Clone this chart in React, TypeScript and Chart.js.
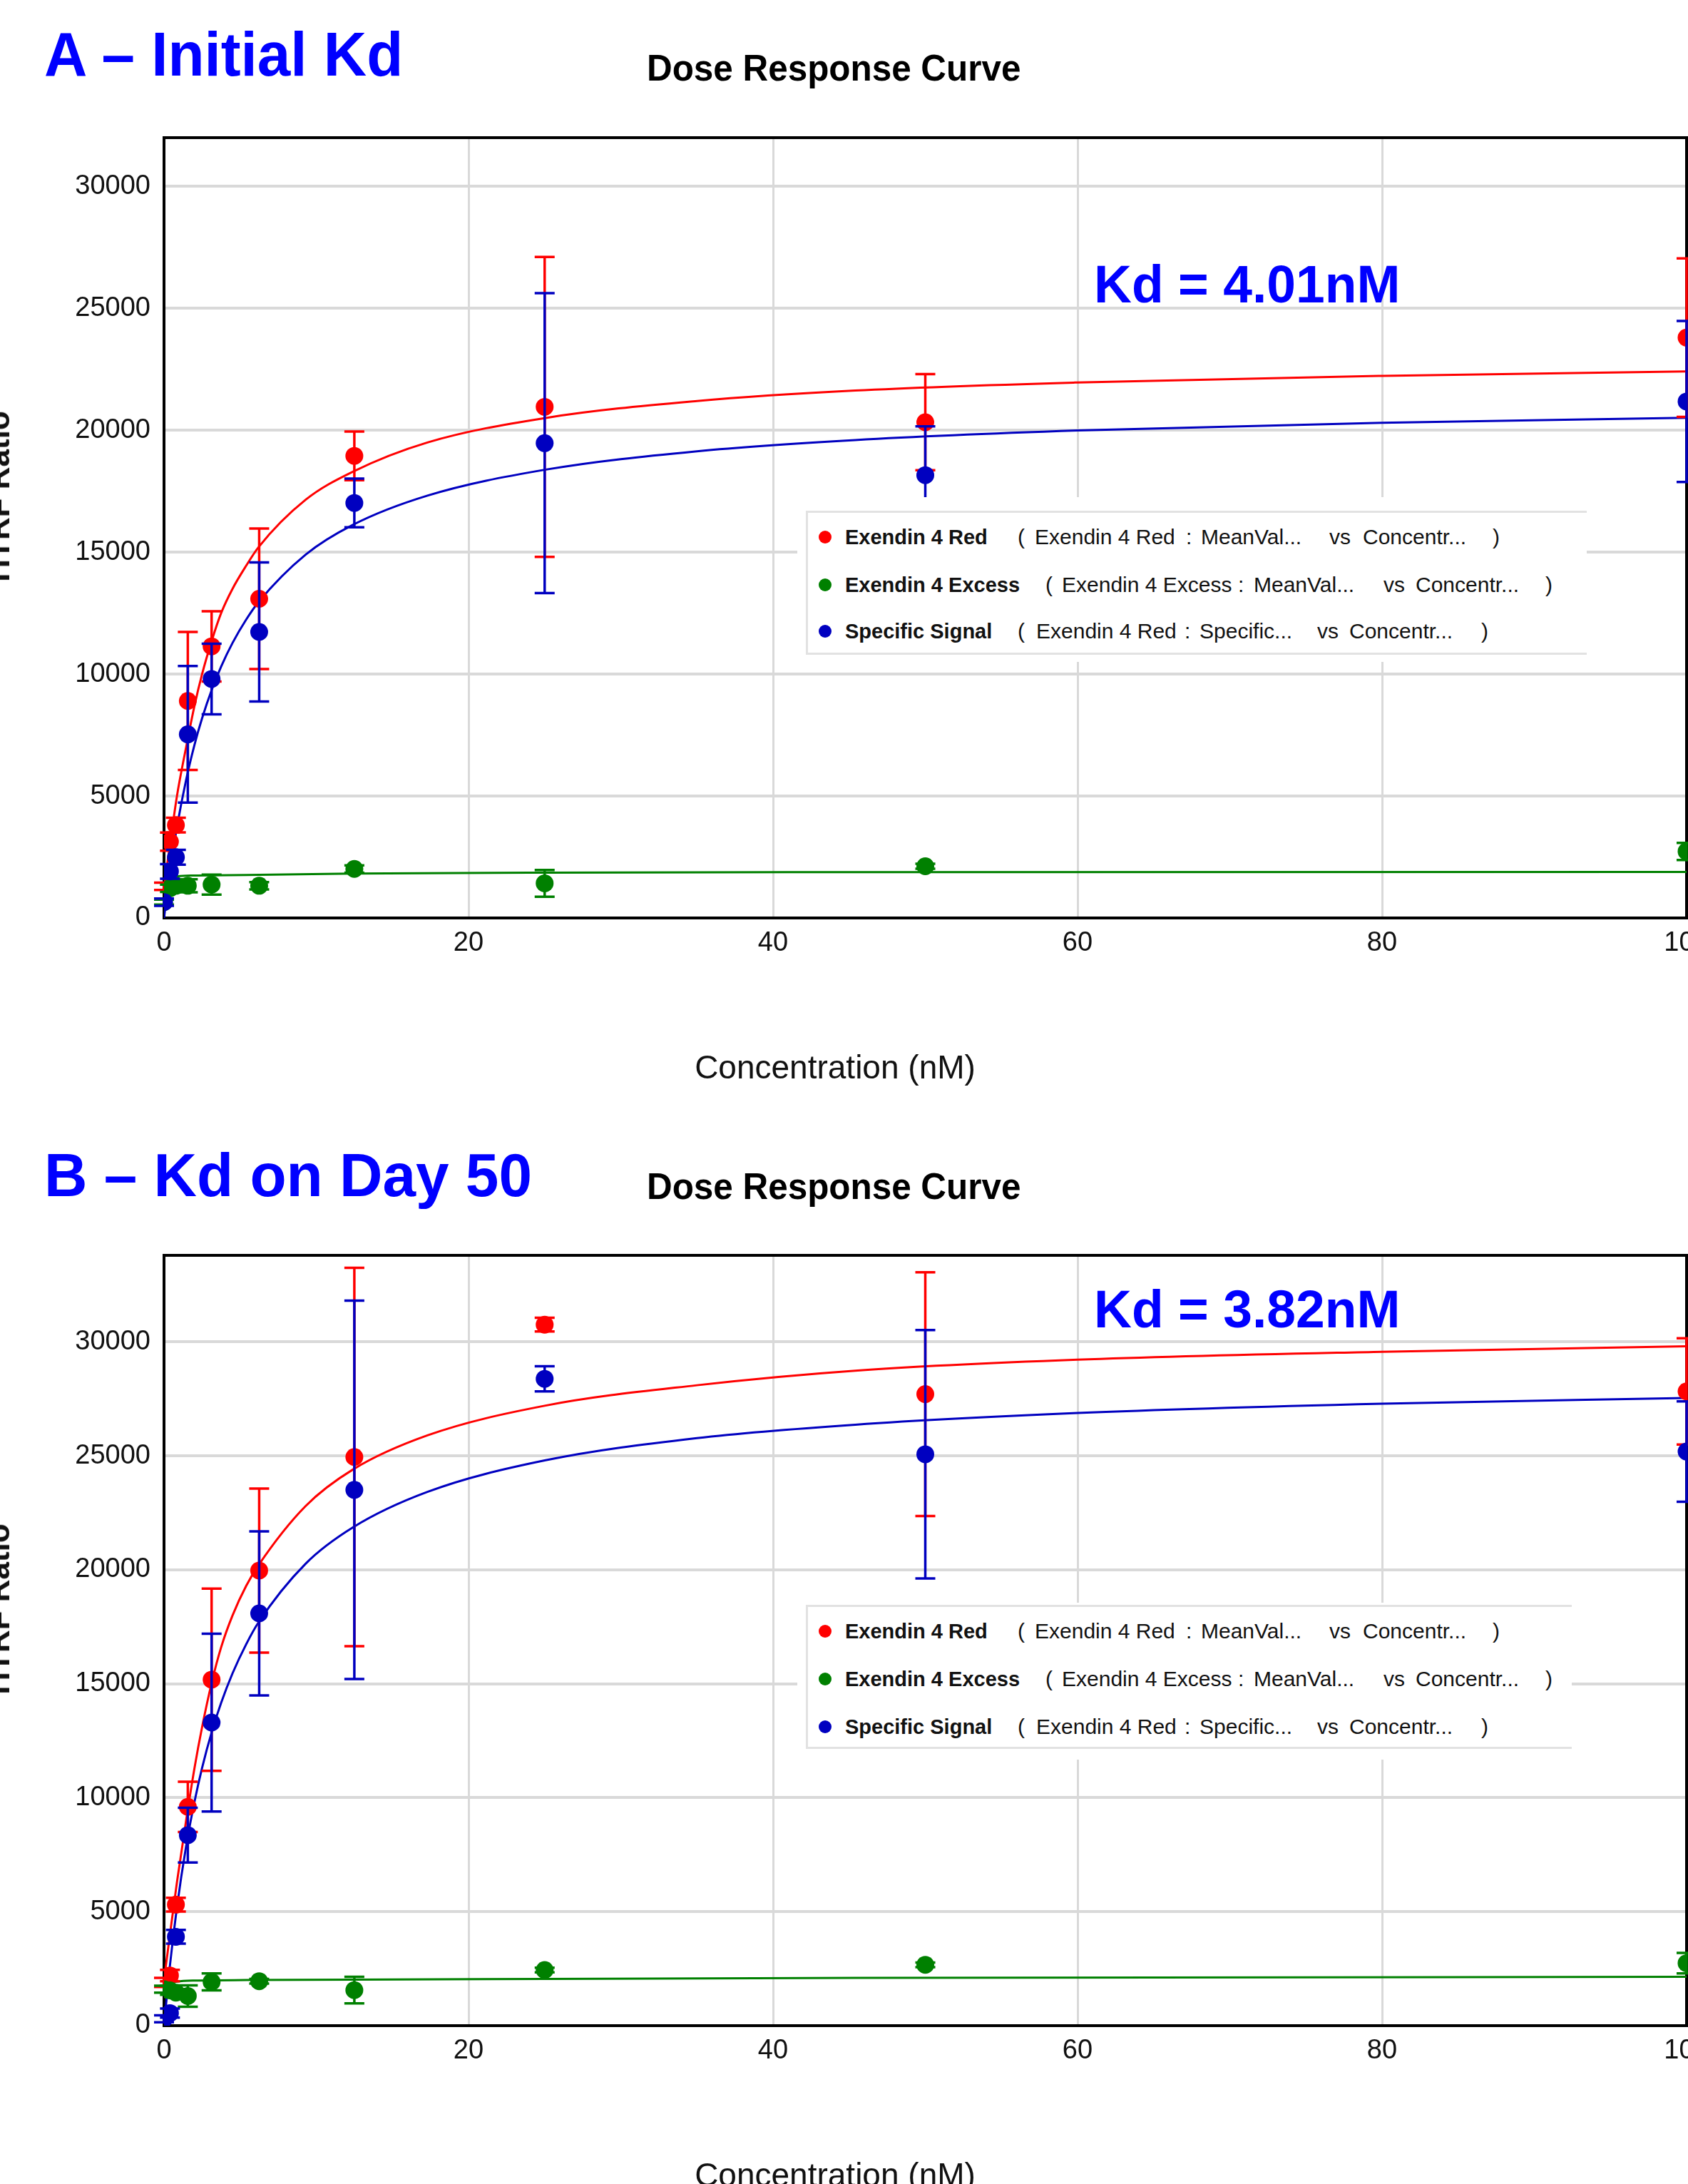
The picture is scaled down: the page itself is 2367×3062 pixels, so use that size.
import React, { useEffect, useRef } from "react";
import { Chart, registerables } from "chart.js";

Chart.register(...registerables);

// ---------------- data ----------------
const concentrations = [0, 0.39, 0.78, 1.5625, 3.125, 6.25, 12.5, 25, 50, 100];

// Panel A – initial Kd
const redMeanA = [1300, 3130, 3810, 8900, 11140, 13090, 18950, 20960, 20330, 23800];
const redErrA = [150, 370, 300, 2830, 1440, 2880, 1000, 6150, 1970, 3250];
const excessMeanA = [650, 1220, 1320, 1320, 1370, 1320, 2010, 1420, 2120, 2730];
const excessErrA = [100, 150, 150, 270, 410, 150, 150, 550, 100, 350];
const specificA = [650, 1910, 2490, 7530, 9800, 11730, 17020, 19470, 18160, 21180];
const specificErrA = [150, 300, 300, 2800, 1450, 2850, 1000, 6150, 2000, 3300];

const fitConc = [0, 0.39, 0.85, 1.45, 2.0, 2.5, 3.15, 3.75, 4.5, 5.4, 6.2, 9.3, 12.4, 17.3, 25, 35, 45.4, 60, 80, 100];
const redFitA = [1300, 3000, 5000, 7000, 8700, 10000, 11400, 12500, 13500, 14450, 15200, 17150, 18300, 19500, 20500, 21200, 21630, 21960, 22230, 22410];
const specificFitA = [0, 1890, 3730, 5660, 7100, 8190, 9380, 10310, 11280, 12240, 12950, 14900, 16120, 17320, 18380, 19140, 19600, 19990, 20310, 20510];
const excessFitConc = [0, 0.39, 0.85, 2.0, 5.4, 12.4, 25, 45.4, 100];
const excessFitA = [1500, 1620, 1700, 1740, 1760, 1820, 1860, 1880, 1890];

// Panel B – Kd on day 50
const redMeanB = [1900, 2200, 5310, 9600, 15180, 19970, 24950, 30760, 27710, 27830];
const redErrB = [200, 250, 300, 1100, 4000, 3600, 8300, 300, 5350, 2330];
const excessMeanB = [1600, 1550, 1450, 1300, 1920, 1950, 1560, 2440, 2670, 2740];
const excessErrB = [150, 200, 150, 470, 370, 100, 580, 100, 100, 450];
const specificB = [300, 550, 3900, 8360, 13300, 18090, 23510, 28380, 25070, 25190];
const specificErrB = [150, 200, 300, 1200, 3900, 3600, 8300, 550, 5450, 2200];
const redFitB = [2000, 4000, 6300, 9000, 11300, 13100, 15100, 16600, 18000, 19300, 20200, 22800, 24400, 25900, 27200, 28100, 28740, 29220, 29570, 29810];
const specificFitB = [0, 2650, 5200, 7870, 9820, 11310, 12920, 14160, 15460, 16740, 17690, 20270, 21860, 23420, 24800, 25780, 26370, 26880, 27290, 27540];
const excessFitB = [1700, 1850, 1930, 1980, 2000, 2020, 2050, 2100, 2140];

const xTicks = [0, 20, 40, 60, 80, 100];
const yTicks = [0, 5000, 10000, 15000, 20000, 25000, 30000];
const yMaxA = 32000;
const yMaxB = 33800;

const legendNames = ["Exendin 4 Red", "Exendin 4 Excess", "Specific Signal"];
const legendSources = ["Exendin 4 Red", "Exendin 4 Excess", "Exendin 4 Red"];
const legendFields = ["MeanVal...", "MeanVal...", "Specific..."];

// ---------------- styling ----------------
const RED = "#ff0000";
const GREEN = "#008000";
const BLUE = "#0000c0";
const FONT = "'Liberation Sans', Arial, sans-serif";
const TICK_FONT = "'Liberation Sans', Arial, sans-serif";
const CANVAS_W = 2420;

const framePlugin = {
  id: "frame",
  beforeDatasetsDraw(chart: any) {
    const { left, top, right, bottom } = chart.chartArea;
    const ctx = chart.ctx;
    ctx.save();
    ctx.strokeStyle = "#000";
    ctx.lineWidth = 4;
    ctx.strokeRect(left, top, right - left, bottom - top);
    ctx.restore();
  },
};

const errorBarPlugin = {
  id: "errorBars",
  beforeDatasetDraw(chart: any, args: any) {
    const ds = chart.data.datasets[args.index];
    if (!ds.errors) return;
    const xs = chart.scales.x;
    const ys = chart.scales.y;
    const ctx = chart.ctx;
    ctx.save();
    ctx.strokeStyle = ds.pointBackgroundColor;
    ctx.lineWidth = 3.5;
    ds.data.forEach((p: any, i: number) => {
      const e = ds.errors[i];
      const x = xs.getPixelForValue(p.x);
      const yTop = ys.getPixelForValue(p.y + e);
      const yBot = ys.getPixelForValue(p.y - e);
      ctx.beginPath();
      ctx.moveTo(x, yTop);
      ctx.lineTo(x, yBot);
      ctx.moveTo(x - 14, yTop);
      ctx.lineTo(x + 14, yTop);
      ctx.moveTo(x - 14, yBot);
      ctx.lineTo(x + 14, yBot);
      ctx.stroke();
    });
    ctx.restore();
  },
};

type PanelData = {
  red: number[]; redErr: number[];
  excess: number[]; excessErr: number[];
  specific: number[]; specificErr: number[];
  redFit: number[]; specificFit: number[]; excessFit: number[];
  yMax: number;
};

const xy = (xs: number[], ys: number[]) => xs.map((x, i) => ({ x, y: ys[i] }));

function pointSet(label: string, xs: number[], ys: number[], errs: number[], color: string, order: number) {
  return {
    label,
    data: xy(xs, ys),
    errors: errs,
    order,
    showLine: false,
    pointRadius: 12.5,
    pointHoverRadius: 12.5,
    pointBackgroundColor: color,
    pointBorderWidth: 0,
    borderColor: color,
    backgroundColor: color,
  };
}

function fitSet(label: string, xs: number[], ys: number[], color: string, order: number) {
  return {
    label,
    data: xy(xs, ys),
    order,
    showLine: true,
    pointRadius: 0,
    borderWidth: 3,
    borderColor: color,
    backgroundColor: color,
    cubicInterpolationMode: "monotone",
    fill: false,
  };
}

function DoseChart({ top, height, padTop, axisH, data }: { top: number; height: number; padTop: number; axisH: number; data: PanelData }) {
  const ref = useRef<HTMLCanvasElement>(null);
  useEffect(() => {
    const chart = new Chart(ref.current as HTMLCanvasElement, {
      type: "scatter",
      data: {
        datasets: [
          pointSet("Specific Signal", concentrations, data.specific, data.specificErr, BLUE, 1),
          pointSet("Exendin 4 Excess", concentrations, data.excess, data.excessErr, GREEN, 2),
          pointSet("Exendin 4 Red", concentrations, data.red, data.redErr, RED, 3),
          fitSet("Specific fit", fitConc, data.specificFit, BLUE, 4),
          fitSet("Excess fit", excessFitConc, data.excessFit, GREEN, 5),
          fitSet("Red fit", fitConc, data.redFit, RED, 6),
        ] as any,
      },
      options: {
        responsive: false,
        animation: false,
        devicePixelRatio: 1,
        events: [],
        layout: { padding: { top: padTop, left: 0, right: CANVAS_W - 2365, bottom: 0 } },
        plugins: { legend: { display: false }, tooltip: { enabled: false }, title: { display: false } },
        scales: {
          x: {
            type: "linear",
            min: 0,
            max: 100,
            afterBuildTicks: (axis: any) => { axis.ticks = xTicks.map((v) => ({ value: v })); },
            afterFit: (axis: any) => { axis.height = axisH; },
            grid: { color: "#d9d9d9", lineWidth: 3, drawTicks: false },
            border: { display: false },
            ticks: { padding: 13, color: "#111", font: { family: TICK_FONT, size: 38 }, maxRotation: 0, autoSkip: false, callback: (v: any) => String(v) },
          },
          y: {
            type: "linear",
            min: 0,
            max: data.yMax,
            afterBuildTicks: (axis: any) => { axis.ticks = yTicks.map((v) => ({ value: v })); },
            afterFit: (axis: any) => { axis.width = 230; },
            grid: { color: "#d9d9d9", lineWidth: 4, drawTicks: false },
            border: { display: false },
            ticks: { padding: 19, color: "#111", font: { family: TICK_FONT, size: 38 }, autoSkip: false, callback: (v: any) => String(v) },
          },
        },
      } as any,
      plugins: [framePlugin, errorBarPlugin],
    });
    return () => chart.destroy();
  }, []);
  return (
    <canvas
      ref={ref}
      width={CANVAS_W}
      height={height}
      style={{ position: "absolute", left: 0, top, width: CANVAS_W, height, display: "block" }}
    />
  );
}

const legendSegX = [
  [1427, 1451, 1663, 1684, 1864, 1911, 2093],
  [1466, 1489, 1736, 1758, 1940, 1985, 2167],
  [1427, 1453, 1661, 1682, 1847, 1892, 2077],
];
const legendColors = [RED, GREEN, BLUE];

function LegendBox({ whiteTop, whiteBottom, borderTop, borderBottom, right, rowY }: { whiteTop: number; whiteBottom: number; borderTop: number; borderBottom: number; right: number; rowY: number[] }) {
  const seg = (text: string, x: number, y: number, bold: boolean, key: string) => (
    <span
      key={key}
      style={{ position: "absolute", left: x, top: y - 15, fontSize: bold ? 29 : 30, lineHeight: "30px", fontWeight: bold ? 700 : 400, color: "#111", whiteSpace: "pre", fontFamily: FONT }}
    >
      {text}
    </span>
  );
  return (
    <>
      <div style={{ position: "absolute", left: 1118, top: whiteTop, width: right - 1118, height: whiteBottom - whiteTop, background: "#fff" }} />
      <div style={{ position: "absolute", left: 1130, top: borderTop, width: right - 1130, height: 3, background: "#e2e2e2" }} />
      <div style={{ position: "absolute", left: 1130, top: borderBottom, width: right - 1130, height: 3, background: "#e2e2e2" }} />
      <div style={{ position: "absolute", left: 1130, top: borderTop, width: 3, height: borderBottom - borderTop + 3, background: "#e2e2e2" }} />
      {legendNames.map((name, i) => {
        const y = rowY[i];
        const xs = legendSegX[i];
        return (
          <React.Fragment key={name}>
            <div style={{ position: "absolute", left: 1148, top: y - 9, width: 18, height: 18, borderRadius: "50%", background: legendColors[i] }} />
            {seg(name, 1185, y, true, "n")}
            {seg("(", xs[0], y, false, "p")}
            {seg(legendSources[i], xs[1], y, false, "s")}
            {seg(":", xs[2], y, false, "c")}
            {seg(legendFields[i], xs[3], y, false, "f")}
            {seg("vs", xs[4], y, false, "v")}
            {seg("Concentr...", xs[5], y, false, "x")}
            {seg(")", xs[6], y, false, "q")}
          </React.Fragment>
        );
      })}
    </>
  );
}

function Text({ text, left, top, size, bold, color, scaleX }: { text: string; left: number; top: number; size: number; bold: boolean; color: string; scaleX: number }) {
  return (
    <div
      style={{
        position: "absolute", left, top, fontSize: size, lineHeight: `${size}px`, fontWeight: bold ? 700 : 400,
        color, whiteSpace: "nowrap", fontFamily: FONT, transform: `scaleX(${scaleX})`, transformOrigin: "left top",
      }}
    >
      {text}
    </div>
  );
}

function CenterText({ text, cx, top, size, bold, color }: { text: string; cx: number; top: number; size: number; bold: boolean; color: string }) {
  return (
    <div
      style={{
        position: "absolute", left: cx, top, fontSize: size, lineHeight: `${size}px`, fontWeight: bold ? 700 : 400,
        color, whiteSpace: "nowrap", fontFamily: FONT, transform: "translateX(-50%)",
      }}
    >
      {text}
    </div>
  );
}

function YTitle({ cy }: { cy: number }) {
  return (
    <div
      style={{
        position: "absolute", left: -24, top: cy, fontSize: 44, lineHeight: "44px", fontWeight: 700, color: "#111",
        whiteSpace: "nowrap", fontFamily: FONT, transform: "rotate(-90deg) translateX(-50%)", transformOrigin: "0 0",
      }}
    >
      HTRF Ratio
    </div>
  );
}

const panelA: PanelData = {
  red: redMeanA, redErr: redErrA, excess: excessMeanA, excessErr: excessErrA,
  specific: specificA, specificErr: specificErrA,
  redFit: redFitA, specificFit: specificFitA, excessFit: excessFitA, yMax: yMaxA,
};
const panelB: PanelData = {
  red: redMeanB, redErr: redErrB, excess: excessMeanB, excessErr: excessErrB,
  specific: specificB, specificErr: specificErrB,
  redFit: redFitB, specificFit: specificFitB, excessFit: excessFitB, yMax: yMaxB,
};

export default function App() {
  return (
    <div style={{ position: "absolute", left: 0, top: 0, width: 2367, height: 3062, overflow: "hidden", background: "#fff" }}>
      <DoseChart top={0} height={1450} padTop={193} axisH={1450 - 1287} data={panelA} />
      <DoseChart top={1450} height={1612} padTop={1760 - 1450} axisH={1612 - (2840 - 1450)} data={panelB} />

      <Text text="A – Initial Kd" left={62} top={32} size={88} bold color="#0000ff" scaleX={0.95} />
      <Text text="Dose Response Curve" left={907} top={69} size={52} bold color="#000" scaleX={0.95} />
      <Text text="Kd = 4.01nM" left={1534} top={361} size={75} bold color="#0000ff" scaleX={0.977} />
      <CenterText text="Concentration (nM)" cx={1171} top={1473} size={46} bold={false} color="#111" />
      <YTitle cy={696} />
      <LegendBox whiteTop={697} whiteBottom={928} borderTop={716} borderBottom={915} right={2225} rowY={[753, 820, 885]} />

      <Text text="B – Kd on Day 50" left={62} top={1605} size={85} bold color="#0000ff" scaleX={0.985} />
      <Text text="Dose Response Curve" left={907} top={1637} size={52} bold color="#000" scaleX={0.95} />
      <Text text="Kd = 3.82nM" left={1534} top={1798} size={75} bold color="#0000ff" scaleX={0.977} />
      <CenterText text="Concentration (nM)" cx={1171} top={3026} size={46} bold={false} color="#111" />
      <YTitle cy={2256} />
      <LegendBox whiteTop={2247} whiteBottom={2467} borderTop={2250} borderBottom={2449} right={2204} rowY={[2287, 2354, 2421]} />
    </div>
  );
}
